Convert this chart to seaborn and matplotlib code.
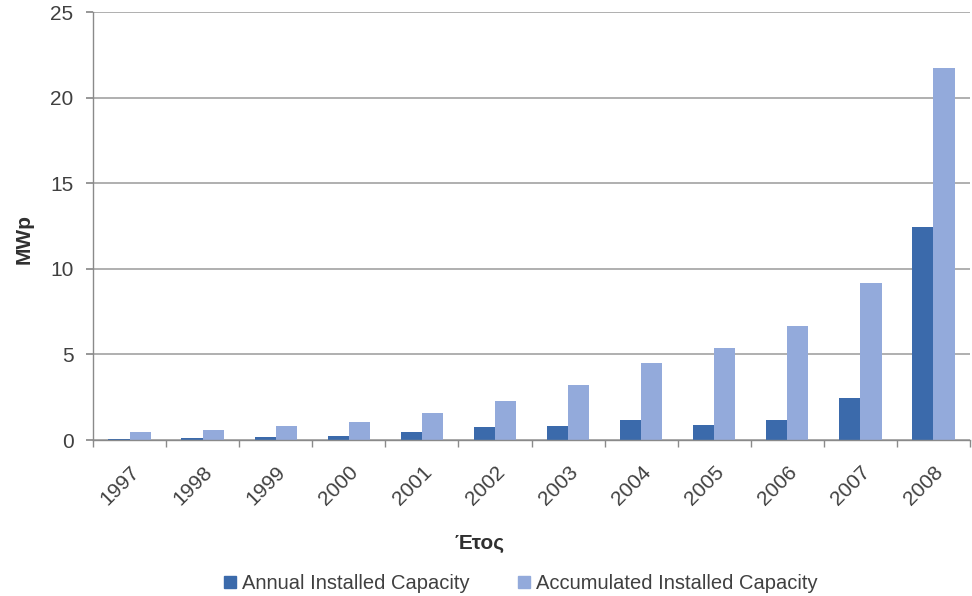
import numpy as np
import pandas as pd
import matplotlib
matplotlib.use("Agg")
import matplotlib.pyplot as plt
import seaborn as sns

years = ["1997", "1998", "1999", "2000", "2001", "2002",
         "2003", "2004", "2005", "2006", "2007", "2008"]
annual = [0.08, 0.13, 0.15, 0.22, 0.45, 0.74, 0.82, 1.17, 0.88, 1.17, 2.47, 12.44]
accumulated = [0.45, 0.58, 0.80, 1.03, 1.56, 2.30, 3.19, 4.48, 5.39, 6.66, 9.15, 21.73]
series_names = ["Annual Installed Capacity", "Accumulated Installed Capacity"]
y_ticks = [0, 5, 10, 15, 20, 25]

df = pd.DataFrame({
    "year": years * 2,
    "value": annual + accumulated,
    "series": [series_names[0]] * len(years) + [series_names[1]] * len(years),
})

sns.set_theme(style="white")
plt.rcParams["font.family"] = ["Liberation Sans", "DejaVu Sans"]

fig = plt.figure(figsize=(9.72, 5.96), dpi=100)
ax = fig.add_axes([93 / 972, 1 - 440 / 596, 877 / 972, 428 / 596])

palette = {series_names[0]: "#3b6aab", series_names[1]: "#93aadb"}
sns.barplot(data=df, x="year", y="value", hue="series", palette=palette,
            width=0.58, ax=ax, legend=False, saturation=1, linewidth=0)

ax.set_ylim(0, 25)
ax.set_xlim(-0.5, len(years) - 0.5)
ax.set_yticks(y_ticks)
ax.yaxis.grid(True, color="#9a9a9a", linewidth=1.1)
ax.set_axisbelow(True)

for s in ["top", "right"]:
    ax.spines[s].set_visible(False)
for s in ["left", "bottom"]:
    ax.spines[s].set_color("#8a8a8a")
    ax.spines[s].set_linewidth(1.0)

ax.set_xticks(np.arange(-0.5, len(years), 1), minor=True)
ax.tick_params(axis="x", which="major", length=0, pad=16)
ax.tick_params(axis="x", which="minor", length=5, color="#8a8a8a", direction="out", bottom=True)
ax.tick_params(axis="y", length=5, color="#8a8a8a", direction="out", left=True, labelsize=15,
               labelcolor="#404040", pad=9)
ax.set_xticklabels(years, rotation=45, ha="right", rotation_mode="anchor",
                   fontsize=15, color="#404040")

ax.set_xlabel("Έτος", fontsize=15, fontweight="bold", color="#303030")
ax.xaxis.set_label_coords(0.441, -0.22)
ax.set_ylabel("MWp", fontsize=15, fontweight="bold", color="#303030")
ax.yaxis.set_label_coords(-0.068, 0.47)

handles = [plt.Line2D([], [], marker="s", linestyle="none", markersize=8,
                      color=palette[n]) for n in series_names]
fig.legend(handles, series_names, loc="lower center", bbox_to_anchor=(0.534, -0.025),
           ncol=2, frameon=False, fontsize=14.5, handletextpad=0.1, columnspacing=2.2,
           handlelength=1.0, labelcolor="#404040")

fig.savefig("out.png", dpi=100)
